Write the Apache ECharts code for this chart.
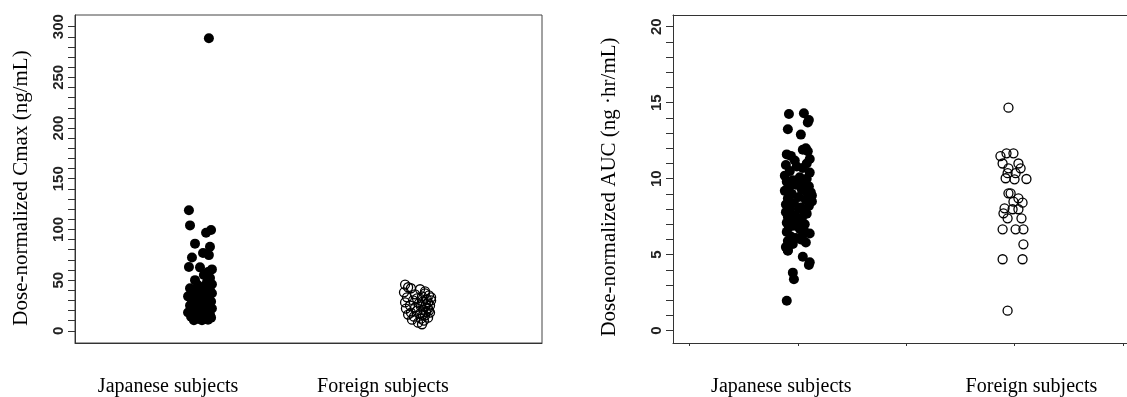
<!DOCTYPE html>
<html>
<head>
<meta charset="utf-8">
<script src="https://cdn.jsdelivr.net/npm/echarts@6/dist/echarts.min.js"></script>
<style>
  html, body { margin: 0; padding: 0; background: #fff; }
  #main { width: 1127px; height: 397px; }
</style>
</head>
<body>
<div id="main"></div>
<script>
// group names and where each group sits on the x scale
const groups = ["Japanese subjects", "Foreign subjects"];
const groupX = [1, 2];

// dose-normalized Cmax (ng/mL)
const cmaxJapan = [119, 104, 99.4, 96.8, 86, 83, 76.7, 74.7, 72.4, 63, 62.6, 60.6, 58, 55, 52, 50, 48, 46, 45, 43, 42, 40, 39, 38, 37, 36, 35, 34, 33, 32, 31, 30, 29, 28, 27, 26, 25, 24, 23, 22, 21, 20, 19, 18, 17, 16, 15, 14, 13, 12, 11, 10.5, 10.5, 13, 16, 20, 25, 30, 35, 40, 28, 22, 18, 24, 15, 288.6];
const cmaxJapanJitter = [-0.051, -0.046, 0.051, 0.028, -0.023, 0.046, 0.014, 0.041, -0.037, -0.051, 0, 0.055, 0.037, 0.018, 0.046, -0.023, 0.032, 0.055, -0.009, 0.023, -0.046, 0.046, -0.032, 0.005, 0.055, -0.018, 0.028, -0.055, 0.041, -0.005, 0.014, -0.037, 0.051, -0.023, 0.028, 0, -0.046, 0.037, -0.014, 0.055, 0.018, -0.032, 0.041, -0.055, 0.005, -0.023, 0.028, -0.041, 0.014, -0.009, 0.037, -0.028, 0.009, 0.051, 0.046, 0.009, 0.023, 0.023, -0.037, 0.009, 0.009, -0.018, 0.028, -0.028, -0.005, 0.041];
const cmaxForeign = [45.6, 43, 42, 41, 39, 38, 37, 36, 35, 34, 33, 33, 32, 31, 30, 30, 29, 28, 28, 27, 26, 25, 25, 24, 24, 23, 22, 22, 21, 20, 20, 19, 18, 18, 17, 16, 16, 15, 14, 13, 12, 11, 10, 8, 6.5];
const cmaxForeignJitter = [-0.055, -0.041, -0.028, 0.014, 0.037, -0.06, 0.037, -0.009, 0.055, 0.023, -0.046, 0.065, 0, 0.046, -0.018, 0.065, 0.028, -0.055, 0.051, 0.009, 0.041, -0.032, 0.06, 0.018, 0.037, -0.009, 0.051, -0.051, 0.028, 0, 0.055, 0.041, -0.028, 0.06, 0.014, -0.041, 0.028, 0.037, -0.014, 0.051, 0.018, -0.023, 0.032, 0.005, 0.023];

// dose-normalized AUC (ng·hr/mL)
const aucJapan = [14.26, 14.3, 13.86, 13.7, 13.25, 12.9, 12.0, 11.8, 11.6, 11.5, 11.3, 11.2, 11.0, 10.9, 10.7, 10.5, 10.4, 10.2, 10.1, 10.0, 9.9, 9.8, 9.7, 9.6, 9.5, 9.4, 9.3, 9.2, 9.1, 9.0, 8.9, 8.8, 8.7, 8.6, 8.5, 8.4, 8.3, 8.2, 8.1, 8.0, 7.9, 7.8, 7.7, 7.6, 7.5, 7.4, 7.3, 7.2, 7.1, 7.0, 6.9, 6.8, 6.7, 6.5, 6.4, 6.3, 6.2, 6.1, 6.0, 5.9, 5.8, 5.7, 5.5, 5.3, 5.26, 4.87, 4.32, 4.5, 3.82, 3.38, 1.97, 11.9, 10.8, 9.0, 8.0, 7.0, 6.6];
const aucJapanJitter = [-0.041, 0.028, 0.051, 0.046, -0.046, 0.014, 0.037, 0.046, -0.051, -0.032, 0.055, -0.014, 0.041, -0.055, 0.023, -0.037, 0.055, -0.06, 0.009, 0.041, -0.023, -0.051, 0.028, -0.009, 0.051, -0.041, 0.018, -0.06, 0.06, -0.028, 0.065, 0.005, -0.046, 0.037, 0.065, -0.018, -0.055, 0.051, 0.014, -0.037, 0.028, -0.055, 0.041, -0.014, -0.046, 0.018, -0.028, 0.005, -0.051, 0.032, -0.018, -0.041, 0.009, -0.051, 0.055, 0.023, -0.032, -0.009, 0.014, -0.046, 0.037, -0.023, -0.055, -0.046, -0.046, 0.023, 0.051, 0.055, -0.023, -0.018, -0.051, 0.023, -0.005, 0.046, 0.005, -0.032, 0.028];
const aucForeign = [14.67, 11.67, 11.67, 11.49, 11.0, 11.0, 10.68, 10.68, 10.36, 10.36, 10.03, 9.96, 9.98, 9.04, 9.04, 8.71, 8.49, 8.42, 8.05, 7.99, 7.99, 7.72, 7.39, 7.39, 6.67, 6.67, 6.67, 5.68, 4.7, 4.7, 1.32];
const aucForeignJitter = [-0.028, -0.037, -0.005, -0.065, -0.055, 0.018, -0.028, 0.028, -0.032, 0.005, -0.041, 0, 0.055, -0.028, -0.018, 0.018, -0.005, 0.037, -0.046, -0.009, 0.018, -0.051, -0.032, 0.032, -0.055, 0.005, 0.041, 0.041, -0.055, 0.037, -0.032];

// axis ticks
const cmaxLabels = [0, 50, 100, 150, 200, 250, 300];
const cmaxTicks = Array.from({ length: 31 }, (_, i) => i * 10);
const aucLabels = [0, 5, 10, 15, 20];
const aucTicks = Array.from({ length: 21 }, (_, i) => i);
const groupTicks = [0.5, 1, 1.5, 2, 2.5];

const toPoints = (values, jitter, g) => values.map((v, i) => [groupX[g] + jitter[i], v]);

const chartDom = document.getElementById("main");
const myChart = echarts.init(chartDom, null, { renderer: "canvas" });

const serif = "'Liberation Serif', 'Times New Roman', serif";
const sans = "'Liberation Sans', Arial, sans-serif";
const axisColor = "#333";

const xAxisBase = {
  type: "value",
  min: 0.424,
  max: 2.576,
  splitLine: { show: false },
  axisLine: { show: true, onZero: false, lineStyle: { color: axisColor, width: 1 } },
};

const groupLabelStyle = {
  formatter: (v) => (v < 1.5 ? groups[0] : groups[1]),
  margin: 34,
  fontFamily: serif,
  fontSize: 20,
  color: "#000",
};

const yAxisBase = {
  type: "value",
  nameLocation: "middle",
  nameRotate: 90,
  splitLine: { show: false },
  axisLine: { show: true, onZero: false, lineStyle: { color: axisColor, width: 1 } },
  axisTick: { show: true, length: 7, lineStyle: { color: axisColor } },
  axisLabel: {
    rotate: 90,
    margin: 9,
    fontFamily: sans,
    fontSize: 15,
    fontWeight: "bold",
    color: "#222",
  },
};

const dotStyle = { color: "#000", opacity: 1 };
const ringStyle = { color: "rgba(0,0,0,0)", borderColor: "#000", borderWidth: 1.3, opacity: 1 };

const option = {
  animation: false,
  backgroundColor: "#fff",
  grid: [
    { left: 75, top: 15, width: 467, height: 328, show: true, borderColor: "#444", borderWidth: 1 },
    // right panel runs off the page edge, so its frame is drawn by axes instead
    { left: 673, top: 15, width: 454, height: 328, show: false },
  ],
  xAxis: [
    {
      ...xAxisBase,
      gridIndex: 0,
      axisTick: { show: false },
      axisLabel: { ...groupLabelStyle, customValues: [0.853, 1.843] },
    },
    {
      ...xAxisBase,
      gridIndex: 1,
      max: 2.519,
      axisTick: { show: true, length: 3, customValues: groupTicks, lineStyle: { color: axisColor } },
      axisLabel: { ...groupLabelStyle, customValues: [0.924, 2.078] },
    },
    {
      ...xAxisBase,
      gridIndex: 1,
      max: 2.519,
      position: "top",
      axisTick: { show: false },
      axisLabel: { show: false },
    },
  ],
  yAxis: [
    {
      ...yAxisBase,
      gridIndex: 0,
      min: -12,
      max: 311.5,
      name: "Dose-normalized Cmax (ng/mL)",
      nameGap: 43,
      nameTextStyle: { fontFamily: serif, fontSize: 21, color: "#000", padding: [0, 18, 0, 0] },
      axisTick: { ...yAxisBase.axisTick, customValues: cmaxTicks },
      axisLabel: { ...yAxisBase.axisLabel, customValues: cmaxLabels },
    },
    {
      ...yAxisBase,
      gridIndex: 1,
      min: -0.81,
      max: 20.77,
      name: "Dose-normalized AUC (ng \u00b7hr/mL)",
      nameGap: 53,
      nameTextStyle: { fontFamily: serif, fontSize: 21, color: "#000", padding: [0, 16, 0, 0] },
      axisTick: { ...yAxisBase.axisTick, customValues: aucTicks },
      axisLabel: { ...yAxisBase.axisLabel, customValues: aucLabels },
    },
  ],
  series: [
    {
      name: "Japanese Cmax",
      type: "scatter",
      xAxisIndex: 0,
      yAxisIndex: 0,
      symbolSize: 10,
      itemStyle: dotStyle,
      data: toPoints(cmaxJapan, cmaxJapanJitter, 0),
    },
    {
      name: "Foreign Cmax",
      type: "scatter",
      xAxisIndex: 0,
      yAxisIndex: 0,
      symbolSize: 9,
      itemStyle: ringStyle,
      data: toPoints(cmaxForeign, cmaxForeignJitter, 1),
    },
    {
      name: "Japanese AUC",
      type: "scatter",
      xAxisIndex: 1,
      yAxisIndex: 1,
      symbolSize: 10,
      itemStyle: dotStyle,
      data: toPoints(aucJapan, aucJapanJitter, 0),
    },
    {
      name: "Foreign AUC",
      type: "scatter",
      xAxisIndex: 1,
      yAxisIndex: 1,
      symbolSize: 9,
      itemStyle: ringStyle,
      data: toPoints(aucForeign, aucForeignJitter, 1),
    },
  ],
};

myChart.setOption(option);
</script>
</body>
</html>
